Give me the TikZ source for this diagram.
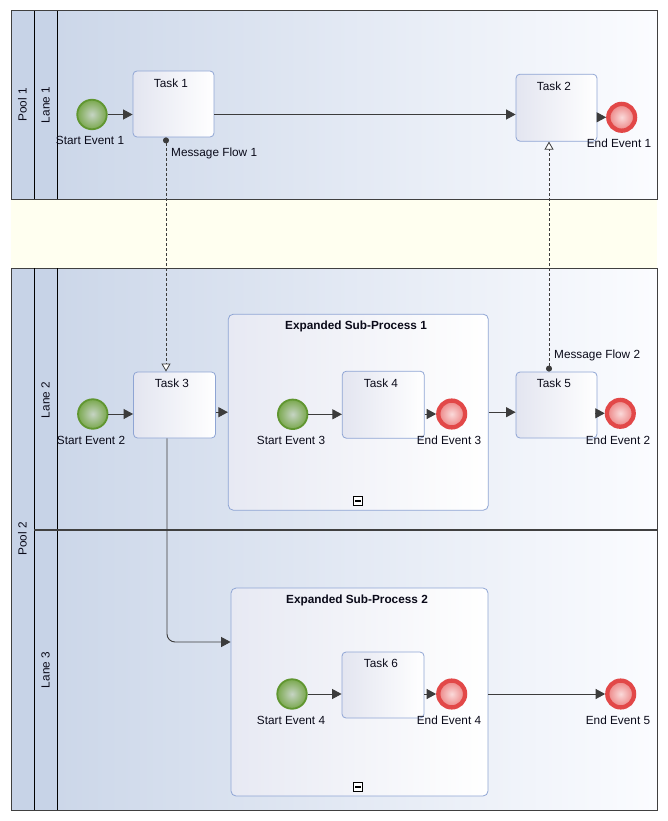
\documentclass[tikz,border=0pt]{standalone}
\usepackage{fontspec}
\setmainfont{Liberation Sans}
\usetikzlibrary{arrows.meta,calc}
\definecolor{flow}{RGB}{60,60,60}
\definecolor{pooll}{RGB}{64,64,64}
\definecolor{hdr}{RGB}{199,211,231}
\definecolor{lanel}{RGB}{204,215,233}
\definecolor{laner}{RGB}{251,252,255}
\definecolor{band}{RGB}{255,255,240}
\definecolor{taskb}{RGB}{143,165,212}
\definecolor{taskl}{RGB}{227,229,240}
\definecolor{spl}{RGB}{231,233,243}
\definecolor{startb}{RGB}{96,150,48}
\definecolor{startin}{RGB}{198,212,196}
\definecolor{startout}{RGB}{122,168,78}
\definecolor{endb}{RGB}{226,72,72}
\definecolor{endin}{RGB}{250,218,218}
\definecolor{endout}{RGB}{236,130,130}
\definecolor{txt}{RGB}{10,10,25}
\begin{document}
\begin{tikzpicture}[x=1pt,y=-1pt,
  font=\fontsize{11.8}{13}\selectfont,
  seq/.style={draw=flow, line width=0.9pt, -{Triangle[length=9.5pt,width=10pt]}},
  msg/.style={draw=flow, line width=0.8pt, dash pattern=on 3pt off 2pt,
    {Circle[length=6pt,fill=flow]}-{Triangle[open,length=8pt,width=9pt,fill=white]}},
  task/.style={draw=taskb, line width=0.8pt, rounded corners=4pt, left color=taskl,
    right color=white, minimum width=81pt, minimum height=66pt, inner sep=0pt},
  subproc/.style={draw=taskb, line width=0.8pt, rounded corners=5pt, left color=spl,
    right color=white, inner sep=0pt},
  startev/.style={circle, draw=startb, line width=1.8pt, inner color=startin,
    outer color=startout, minimum size=29.5pt, inner sep=0pt},
  endev/.style={circle, draw=endb, line width=4.3pt, inner color=endin,
    outer color=endout, minimum size=26.8pt, inner sep=0pt},
  lbl/.style={inner sep=0pt, text=txt},
  sptitle/.style={inner sep=0pt, text=txt, font=\fontsize{11.8}{13}\selectfont\bfseries},
  collapse/.style={draw=black, line width=1.2pt, fill=white, minimum size=9.5pt, inner sep=0pt},
  poolframe/.style={draw=pooll, line width=1pt},
  hline/.style={draw=black, line width=1pt}
]
\useasboundingbox (0,0) rectangle (668,821);
\fill[white] (0,0) rectangle (668,821);
% band between pools
\fill[band] (11,199) rectangle (657,268);
% Pool 1
\fill[hdr] (11,11) rectangle (57,199);
\shade[left color=lanel, right color=laner] (57,11) rectangle (657,199);
\draw[poolframe] (11,11) rectangle (657,199);
\draw[hline] (34,11) -- (34,199);
\draw[hline] (57,11) -- (57,199);
% Pool 2
\fill[hdr] (11,268) rectangle (57,810);
\shade[left color=lanel, right color=laner] (57,268) rectangle (657,810);
\draw[poolframe] (11,268) rectangle (657,810);
\draw[hline] (34,268) -- (34,810);
\draw[hline] (57,268) -- (57,810);
\draw[draw=pooll, line width=1.8pt] (34,530) -- (657,530);
% pool / lane titles
\node[lbl, rotate=90] (p1) at (22.5,105) {Pool 1};
\node[lbl, rotate=90] (l1) at (45.5,105) {Lane 1};
\node[lbl, rotate=90] (p2) at (22.5,539) {Pool 2};
\node[lbl, rotate=90] (l2) at (45.5,400) {Lane 2};
\node[lbl, rotate=90] (l3) at (45.5,670) {Lane 3};
% sub-processes
\node[subproc, minimum width=260pt, minimum height=196pt] (sp1) at (358.3,412.2) {};
\node[sptitle] (sp1t) at (356,326) {Expanded Sub-Process 1};
\node[collapse] (c1) at (358,501) {};
\draw[line width=1.8pt] ([xshift=-3pt]c1.center) -- ([xshift=3pt]c1.center);
\node[subproc, minimum width=257pt, minimum height=208pt] (sp2) at (359.5,692) {};
\node[sptitle] (sp2t) at (357,600) {Expanded Sub-Process 2};
\node[collapse] (c2) at (358,787) {};
\draw[line width=1.8pt] ([xshift=-3pt]c2.center) -- ([xshift=3pt]c2.center);
% tasks
\node[task] (t1) at (173.5,104) {};
\node[lbl] (t1l) at (171,83) {Task 1};
\node[task, minimum height=67pt] (t2) at (556.5,107.7) {};
\node[lbl] (t2l) at (554,86) {Task 2};
\node[task, minimum width=82pt] (t3) at (174.5,405) {};
\node[lbl] (t3l) at (172,383) {Task 3};
\node[task, minimum width=82pt, minimum height=67pt] (t4) at (383.3,404.7) {};
\node[lbl] (t4l) at (381,383) {Task 4};
\node[task] (t5) at (556.5,405) {};
\node[lbl] (t5l) at (554,383) {Task 5};
\node[task, minimum width=82pt] (t6) at (383,685) {};
\node[lbl] (t6l) at (381,663) {Task 6};
% events
\node[startev] (se1) at (92,114.5) {};
\node[lbl] (se1l) at (90,140) {Start Event 1};
\node[endev] (ee1) at (621.7,117.3) {};
\node[lbl] (ee1l) at (619,143) {End Event 1};
\node[startev] (se2) at (92.8,414) {};
\node[lbl] (se2l) at (91,440) {Start Event 2};
\node[endev] (ee2) at (620.3,413.3) {};
\node[lbl] (ee2l) at (618,440) {End Event 2};
\node[startev] (se3) at (292.7,414.3) {};
\node[lbl] (se3l) at (291,440) {Start Event 3};
\node[endev] (ee3) at (451.7,414) {};
\node[lbl] (ee3l) at (449,440) {End Event 3};
\node[startev] (se4) at (292,694) {};
\node[lbl] (se4l) at (291,720) {Start Event 4};
\node[endev] (ee4) at (451.7,694) {};
\node[lbl] (ee4l) at (449,720) {End Event 4};
\node[endev] (ee5) at (620.7,694) {};
\node[lbl] (ee5l) at (618,720) {End Event 5};
% sequence flows
\draw[seq] (se1) -- (se1 -| t1.west);
\draw[seq] (se1 -| t1.east) -- (se1 -| t2.west);
\draw[seq] (ee1 -| t2.east) -- (ee1);
\draw[seq] (se2) -- (se2 -| t3.west);
\draw[seq] (sp1.west -| t3.east) -- (sp1.west);
\draw[seq] (se3) -- (se3 -| t4.west);
\draw[seq] (ee3 -| t4.east) -- (ee3);
\draw[seq] (sp1.east) -- (sp1.east -| t5.west);
\draw[seq] (ee2 -| t5.east) -- (ee2);
\draw[seq, rounded corners=8pt] ([xshift=-7.5pt]t3.south) |- ([yshift=50pt]sp2.west);
\draw[seq] (se4) -- (se4 -| t6.west);
\draw[seq] (ee4 -| t6.east) -- (ee4);
\draw[seq] (ee5 -| sp2.east) -- (ee5);
% message flows
\draw[msg] ([xshift=-7.5pt]t1.south) -- ([xshift=-7.5pt]t1.south |- t3.north);
\node[lbl, anchor=west] (m1l) at (171,153) {Message Flow 1};
\draw[msg] ([xshift=-7.5pt]t5.north) -- ([xshift=-7.5pt]t5.north |- t2.south);
\node[lbl, anchor=west] (m2l) at (554,355) {Message Flow 2};
\end{tikzpicture}
\end{document}
